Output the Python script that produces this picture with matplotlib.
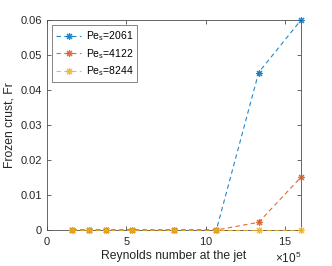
import matplotlib
matplotlib.use("Agg")
import matplotlib.pyplot as plt
from matplotlib.ticker import ScalarFormatter

plt.rcParams['font.family'] = ['Liberation Sans', 'DejaVu Sans']
plt.rcParams['mathtext.fontset'] = 'custom'
plt.rcParams['mathtext.rm'] = 'Liberation Sans'
plt.rcParams['mathtext.it'] = 'Liberation Sans'

# Reynolds number at the jet
reynolds = [1.6e5, 2.667e5, 3.733e5, 5.333e5, 8.0e5, 10.667e5, 13.333e5, 16.0e5]
# frozen crust for each Peclet number
fr_2061 = [0, 0, 0, 0, 0, 0, 0.045, 0.06]
fr_4122 = [0, 0, 0, 0, 0, 0, 0.0022, 0.0151]
fr_8244 = [0, 0, 0, 0, 0, 0, 0, 0]
labels = ['Pe$_\\mathregular{s}$=2061', 'Pe$_\\mathregular{s}$=4122', 'Pe$_\\mathregular{s}$=8244']
colors = ['#0072BD', '#D95319', '#EDB120']

axc = '#4d4d4d'
txc = '#262626'

fig = plt.figure(figsize=(3.32, 2.66), dpi=100)
ax = fig.add_axes([0.1416, 0.1353, 0.765, 0.7895])

for ys, lab, c in zip([fr_2061, fr_4122, fr_8244], labels, colors):
    ax.plot(reynolds, ys, linestyle=(0, (4, 3)), color=c, lw=0.8, alpha=0.85,
            marker=(8, 2, 0), markersize=5, markeredgewidth=0.8,
            markeredgecolor=c, label=lab, clip_on=False, zorder=3)

ax.set_xlim(0, 16.0e5)
ax.set_ylim(0, 0.06)
ax.set_xticks([0, 5e5, 10e5, 15e5])
ax.set_yticks([0, 0.01, 0.02, 0.03, 0.04, 0.05, 0.06])
ax.set_yticklabels(['0', '0.01', '0.02', '0.03', '0.04', '0.05', '0.06'])
fmt = ScalarFormatter(useMathText=True)
fmt.set_powerlimits((5, 5))
ax.xaxis.set_major_formatter(fmt)

ax.tick_params(direction='in', length=3, width=0.6, colors=axc, labelsize=8,
               top=True, right=True, labelcolor=txc)
for s in ax.spines.values():
    s.set_color(axc)
    s.set_linewidth(0.6)

ax.xaxis.get_offset_text().set_fontsize(8.5)
ax.xaxis.get_offset_text().set_color(txc)

ax.set_xlabel('Reynolds number at the jet', fontsize=8.7, color=txc, labelpad=2)
ax.set_ylabel('Frozen crust, Fr', fontsize=8.7, color=txc, labelpad=4)

leg = ax.legend(loc='upper left', fontsize=7.5, frameon=True, fancybox=False,
                handlelength=2.4, handletextpad=0.4, borderaxespad=0.5,
                labelspacing=0.35, borderpad=0.4)
leg.get_frame().set_edgecolor(axc)
leg.get_frame().set_linewidth(0.6)

fig.savefig('out.png', dpi=100)
